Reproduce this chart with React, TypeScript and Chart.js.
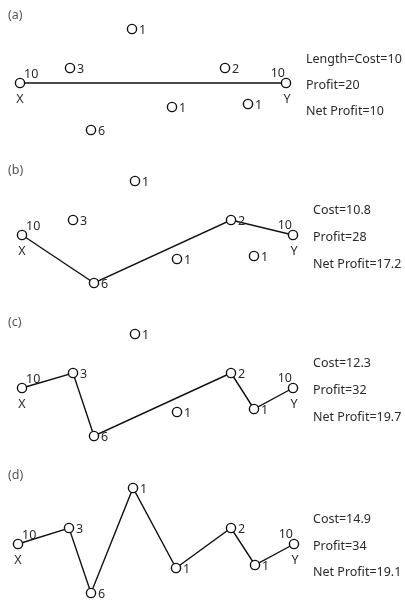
import React, { useEffect, useRef } from "react";
import { Chart, registerables } from "chart.js";

Chart.register(...registerables);

// Node weights (X, 3, 1, 6, 1, 2, 1, Y)
const nodeValues = ["10", "3", "1", "6", "1", "2", "1", "10"];
const panelLabels = ["(a)", "(b)", "(c)", "(d)"];

// Node positions in each panel (diagram coordinates)
const nodeXA = [20, 70, 132, 91, 172, 225, 248, 286];
const nodeYA = [83, 68, 29, 130, 107, 68, 104, 83];
const nodeXB = [22, 73, 135, 94, 177, 231, 254, 293];
const nodeYB = [235, 220, 181, 283, 259, 220, 256, 235];
const nodeXC = [22, 73, 135, 94, 177, 231, 254, 293];
const nodeYC = [388, 373, 334, 436, 412, 373, 409, 388];
const nodeXD = [18, 69, 133, 91, 176, 231, 255, 294];
const nodeYD = [544, 528, 488, 593, 568, 528, 565, 544];

// Paths through node indices
const pathA = [0, 7];
const pathB = [0, 3, 5, 7];
const pathC = [0, 1, 3, 5, 6, 7];
const pathD = [0, 1, 3, 2, 4, 5, 6, 7];

// Summary texts
const summaryA = ["Length=Cost=10", "Profit=20", "Net Profit=10"];
const summaryB = ["Cost=10.8", "Profit=28", "Net Profit=17.2"];
const summaryC = ["Cost=12.3", "Profit=32", "Net Profit=19.7"];
const summaryD = ["Cost=14.9", "Profit=34", "Net Profit=19.1"];

const panels = [
  { xs: nodeXA, ys: nodeYA, path: pathA, summary: summaryA, sx: 306, sy: [59, 85, 111], ly: 15 },
  { xs: nodeXB, ys: nodeYB, path: pathB, summary: summaryB, sx: 313, sy: [210, 237, 264], ly: 170 },
  { xs: nodeXC, ys: nodeYC, path: pathC, summary: summaryC, sx: 313, sy: [363, 390, 417], ly: 322 },
  { xs: nodeXD, ys: nodeYD, path: pathD, summary: summaryD, sx: 313, sy: [519, 546, 572], ly: 475 },
];

const FONT = "12.5px 'Noto Sans', 'Open Sans', sans-serif";
const TEXT = "#2a2a2a";

const labelPlugin = {
  id: "diagramLabels",
  afterDatasetsDraw(chart: any) {
    const ctx = chart.ctx;
    const sx = chart.scales.x;
    const sy = chart.scales.y;
    ctx.save();
    ctx.font = FONT;
    ctx.fillStyle = TEXT;
    panels.forEach((p, pi) => {
      ctx.textAlign = "left";
      ctx.textBaseline = "middle";
      ctx.fillStyle = "#555";
      ctx.fillText(panelLabels[pi], 8, p.ly);
      ctx.fillStyle = TEXT;
      p.xs.forEach((xv, i) => {
        const px = sx.getPixelForValue(xv);
        const py = sy.getPixelForValue(p.ys[i]);
        if (i === 0) {
          ctx.textAlign = "left";
          ctx.fillText(nodeValues[i], px + 4, py - 9);
          ctx.textAlign = "center";
          ctx.fillText("X", px, py + 16);
        } else if (i === p.xs.length - 1) {
          ctx.textAlign = "right";
          ctx.fillText(nodeValues[i], px - 1, py - 10);
          ctx.textAlign = "center";
          ctx.fillText("Y", px + 1, py + 16);
        } else {
          ctx.textAlign = "left";
          ctx.fillText(nodeValues[i], px + 7, py + 1);
        }
      });
      ctx.textAlign = "left";
      p.summary.forEach((s, k) => {
        ctx.fillText(s, p.sx, p.sy[k]);
      });
    });
    ctx.restore();
  },
};

export default function App() {
  const ref = useRef<HTMLCanvasElement | null>(null);
  useEffect(() => {
    document.body.style.margin = "0";
    const datasets: any[] = [];
    panels.forEach((p) => {
      datasets.push({
        data: p.path.map((i) => ({ x: p.xs[i], y: p.ys[i] })),
        showLine: true,
        borderColor: "#111",
        borderWidth: 1.4,
        pointRadius: 0,
        order: 2,
        clip: false,
      });
      datasets.push({
        data: p.xs.map((x, i) => ({ x, y: p.ys[i] })),
        showLine: false,
        pointRadius: 4.6,
        pointBorderWidth: 1.4,
        pointBorderColor: "#111",
        pointBackgroundColor: "#fff",
        order: 1,
        clip: false,
      });
    });
    const chart = new Chart(ref.current as HTMLCanvasElement, {
      type: "scatter",
      data: { datasets },
      options: {
        animation: false,
        responsive: false,
        layout: { padding: 0, autoPadding: false },
        plugins: { legend: { display: false }, tooltip: { enabled: false } },
        scales: {
          x: { type: "linear", min: 0, max: 405, display: false },
          y: { type: "linear", min: 0, max: 600, reverse: true, display: false },
        },
        events: [],
      },
      plugins: [labelPlugin],
    });
    return () => chart.destroy();
  }, []);
  return (
    <div style={{ position: "absolute", left: 0, top: 0, width: 405, height: 600, background: "#fff" }}>
      <canvas ref={ref} width={405} height={600} />
    </div>
  );
}
